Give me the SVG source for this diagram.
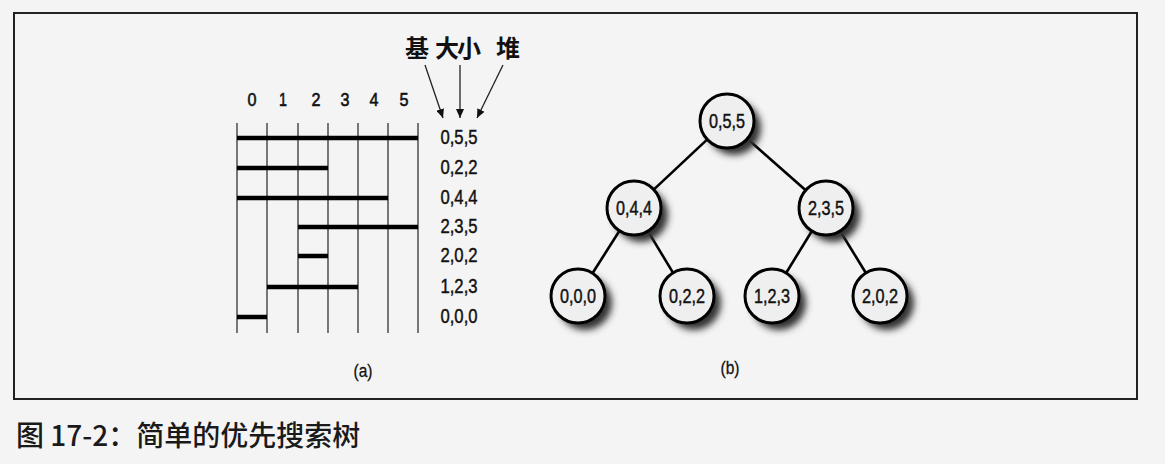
<svg xmlns="http://www.w3.org/2000/svg" width="1165" height="464" viewBox="0 0 1165 464">
<style>
.num{font-family:"Liberation Sans",Arial,sans-serif;font-size:20px;fill:#111;stroke:#111;stroke-width:0.45;text-anchor:middle}
.col{font-family:"Liberation Sans",Arial,sans-serif;font-size:19px;fill:#111;stroke:#111;stroke-width:0.6;text-anchor:middle}
.lbl{font-family:"Liberation Sans",Arial,sans-serif;font-size:19px;fill:#111;stroke:#111;stroke-width:0.3;text-anchor:middle}
.cjk{font-family:"Noto Sans CJK SC","Noto Sans",sans-serif;font-size:24px;font-weight:bold;fill:#111;text-anchor:middle}
.cap{font-family:"Noto Sans CJK SC","Noto Sans",sans-serif;font-size:28px;font-weight:500;fill:#1a1a1a}
.grid{stroke:#333;stroke-width:1.3}
.bar{stroke:#000;stroke-width:4.5}
.arr{stroke:#222;stroke-width:1.3;fill:none;marker-end:url(#ah)}
.edge{stroke:#000;stroke-width:2.6}
.node{fill:#efefef;stroke:#000;stroke-width:3}
.shadow{fill:#333;filter:url(#blur)}
</style>
<defs>
<marker id="ah" markerUnits="userSpaceOnUse" markerWidth="10" markerHeight="8" refX="9" refY="4" orient="auto">
<path d="M0,0 L9,4 L0,8 z" fill="#111"/>
</marker>
<filter id="blur" x="-50%" y="-50%" width="200%" height="200%">
<feGaussianBlur stdDeviation="3.5"/>
</filter>
</defs>
<rect x="0" y="0" width="1165" height="464" fill="#f4f4f4"/>
<rect x="14" y="13" width="1123" height="386" fill="none" stroke="#222" stroke-width="2"/>

<g id="panel-a">
<g id="column-labels">
<text class="col" x="252" y="106" textLength="9" lengthAdjust="spacingAndGlyphs">0</text>
<text class="col" x="283" y="106" textLength="8" lengthAdjust="spacingAndGlyphs">1</text>
<text class="col" x="316" y="106" textLength="9" lengthAdjust="spacingAndGlyphs">2</text>
<text class="col" x="345" y="106" textLength="9" lengthAdjust="spacingAndGlyphs">3</text>
<text class="col" x="374" y="106" textLength="9" lengthAdjust="spacingAndGlyphs">4</text>
<text class="col" x="404" y="106" textLength="9" lengthAdjust="spacingAndGlyphs">5</text>
</g>
<g id="grid">
<line class="grid" x1="237" y1="123" x2="237" y2="333"/>
<line class="grid" x1="267" y1="123" x2="267" y2="333"/>
<line class="grid" x1="298" y1="123" x2="298" y2="333"/>
<line class="grid" x1="328" y1="123" x2="328" y2="333"/>
<line class="grid" x1="358" y1="123" x2="358" y2="333"/>
<line class="grid" x1="388" y1="123" x2="388" y2="333"/>
<line class="grid" x1="418" y1="123" x2="418" y2="333"/>
</g>
<g id="bars">
<line class="bar" x1="237" y1="138" x2="418" y2="138"/>
<line class="bar" x1="237" y1="168" x2="328" y2="168"/>
<line class="bar" x1="237" y1="198" x2="388" y2="198"/>
<line class="bar" x1="298" y1="227" x2="418" y2="227"/>
<line class="bar" x1="298" y1="256" x2="328" y2="256"/>
<line class="bar" x1="267" y1="287" x2="358" y2="287"/>
<line class="bar" x1="237" y1="317" x2="267" y2="317"/>
</g>
<g id="row-labels">
<text class="num" x="459" y="144" textLength="37" lengthAdjust="spacingAndGlyphs">0,5,5</text>
<text class="num" x="459" y="174" textLength="37" lengthAdjust="spacingAndGlyphs">0,2,2</text>
<text class="num" x="459" y="204" textLength="37" lengthAdjust="spacingAndGlyphs">0,4,4</text>
<text class="num" x="459" y="233" textLength="37" lengthAdjust="spacingAndGlyphs">2,3,5</text>
<text class="num" x="459" y="262" textLength="37" lengthAdjust="spacingAndGlyphs">2,0,2</text>
<text class="num" x="459" y="293" textLength="37" lengthAdjust="spacingAndGlyphs">1,2,3</text>
<text class="num" x="459" y="323" textLength="37" lengthAdjust="spacingAndGlyphs">0,0,0</text>
</g>
<g id="header-labels">
<text class="cjk" x="417" y="57">基</text>
<text class="cjk" x="447" y="57">大</text>
<text class="cjk" x="469" y="57">小</text>
<text class="cjk" x="508" y="57">堆</text>
</g>
<g id="header-arrows">
<line class="arr" x1="425" y1="65" x2="443" y2="118"/>
<line class="arr" x1="460" y1="65" x2="460" y2="118"/>
<line class="arr" x1="503" y1="65" x2="477" y2="118"/>
</g>
<text class="lbl" x="363" y="377" textLength="19" lengthAdjust="spacingAndGlyphs">(a)</text>
</g>

<g id="connectors">
<line class="edge" x1="707.3" y1="139.4" x2="653.7" y2="189.6"/>
<line class="edge" x1="747.3" y1="138.8" x2="805.7" y2="190.2"/>
<line class="edge" x1="619.5" y1="230.8" x2="592.5" y2="273.2"/>
<line class="edge" x1="647.9" y1="231.1" x2="673.1" y2="272.9"/>
<line class="edge" x1="811.9" y1="231.0" x2="786.1" y2="273.0"/>
<line class="edge" x1="840.1" y1="231.0" x2="865.9" y2="273.0"/>
</g>

<g id="node-055">
<circle class="shadow" cx="734" cy="128" r="27"/>
<circle class="node" cx="727" cy="121" r="27"/>
<text class="num" x="727" y="128" textLength="36" lengthAdjust="spacingAndGlyphs">0,5,5</text>
</g>
<g id="node-044">
<circle class="shadow" cx="641" cy="215" r="27"/>
<circle class="node" cx="634" cy="208" r="27"/>
<text class="num" x="634" y="215" textLength="36" lengthAdjust="spacingAndGlyphs">0,4,4</text>
</g>
<g id="node-235">
<circle class="shadow" cx="833" cy="215" r="27"/>
<circle class="node" cx="826" cy="208" r="27"/>
<text class="num" x="826" y="215" textLength="36" lengthAdjust="spacingAndGlyphs">2,3,5</text>
</g>
<g id="node-000">
<circle class="shadow" cx="585" cy="303" r="27"/>
<circle class="node" cx="578" cy="296" r="27"/>
<text class="num" x="578" y="303" textLength="36" lengthAdjust="spacingAndGlyphs">0,0,0</text>
</g>
<g id="node-022">
<circle class="shadow" cx="694" cy="303" r="27"/>
<circle class="node" cx="687" cy="296" r="27"/>
<text class="num" x="687" y="303" textLength="36" lengthAdjust="spacingAndGlyphs">0,2,2</text>
</g>
<g id="node-123">
<circle class="shadow" cx="779" cy="303" r="27"/>
<circle class="node" cx="772" cy="296" r="27"/>
<text class="num" x="772" y="303" textLength="36" lengthAdjust="spacingAndGlyphs">1,2,3</text>
</g>
<g id="node-202">
<circle class="shadow" cx="887" cy="303" r="27"/>
<circle class="node" cx="880" cy="296" r="27"/>
<text class="num" x="880" y="303" textLength="36" lengthAdjust="spacingAndGlyphs">2,0,2</text>
</g>
<text class="lbl" x="730" y="374" textLength="19" lengthAdjust="spacingAndGlyphs">(b)</text>

<text class="cap" x="16" y="446">图 17-2：简单的优先搜索树</text>
</svg>
